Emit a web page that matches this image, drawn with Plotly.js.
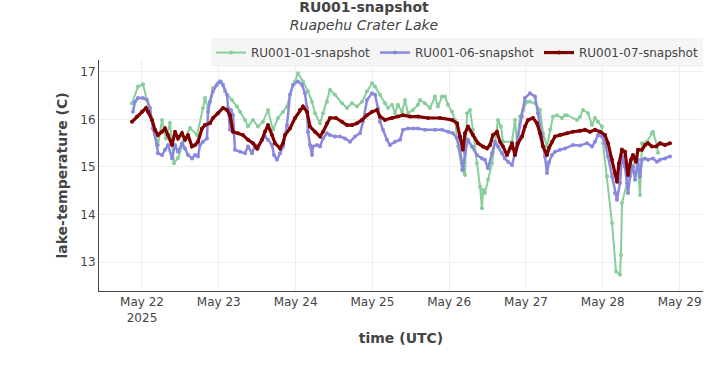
<!DOCTYPE html>
<html>
<head>
<meta charset="utf-8">
<script src="https://cdn.plot.ly/plotly-3.0.1.min.js"></script>
<style>html,body{margin:0;padding:0;background:#fff;}#chart{width:728px;height:370px;}</style>
</head>
<body>
<div id="chart"></div>
<script>
const seriesNames = ["RU001-01-snapshot", "RU001-06-snapshot", "RU001-07-snapshot"];

const t01 = ["2025-05-21 20:52","2025-05-21 22:45","2025-05-22 00:19","2025-05-22 02:30","2025-05-22 04:04","2025-05-22 05:00","2025-05-22 06:15","2025-05-22 07:30","2025-05-22 08:45","2025-05-22 10:00","2025-05-22 11:15","2025-05-22 13:08","2025-05-22 15:00","2025-05-22 17:11","2025-05-22 19:04","2025-05-22 19:41","2025-05-22 20:38","2025-05-22 22:11","2025-05-22 23:45","2025-05-23 00:41","2025-05-23 01:56","2025-05-23 04:08","2025-05-23 05:41","2025-05-23 06:38","2025-05-23 08:11","2025-05-23 09:08","2025-05-23 10:41","2025-05-23 12:15","2025-05-23 13:49","2025-05-23 15:23","2025-05-23 16:56","2025-05-23 18:30","2025-05-23 20:04","2025-05-23 21:19","2025-05-23 22:15","2025-05-23 23:49","2025-05-24 00:45","2025-05-24 02:19","2025-05-24 03:53","2025-05-24 05:08","2025-05-24 06:04","2025-05-24 07:38","2025-05-24 08:34","2025-05-24 09:49","2025-05-24 10:45","2025-05-24 12:19","2025-05-24 14:30","2025-05-24 16:04","2025-05-24 17:38","2025-05-24 19:11","2025-05-24 20:45","2025-05-24 22:19","2025-05-24 23:53","2025-05-25 00:49","2025-05-25 02:23","2025-05-25 03:56","2025-05-25 04:53","2025-05-25 06:08","2025-05-25 07:04","2025-05-25 08:00","2025-05-25 09:15","2025-05-25 10:11","2025-05-25 11:08","2025-05-25 12:41","2025-05-25 14:15","2025-05-25 14:53","2025-05-25 16:26","2025-05-25 18:00","2025-05-25 19:34","2025-05-25 20:30","2025-05-25 21:45","2025-05-25 22:41","2025-05-25 23:38","2025-05-26 00:53","2025-05-26 01:49","2025-05-26 02:45","2025-05-26 04:00","2025-05-26 04:56","2025-05-26 05:34","2025-05-26 06:30","2025-05-26 07:26","2025-05-26 08:41","2025-05-26 09:38","2025-05-26 10:15","2025-05-26 10:34","2025-05-26 11:11","2025-05-26 12:08","2025-05-26 13:23","2025-05-26 14:19","2025-05-26 15:15","2025-05-26 16:11","2025-05-26 16:49","2025-05-26 19:38","2025-05-26 20:34","2025-05-26 21:11","2025-05-26 22:08","2025-05-26 23:04","2025-05-27 00:19","2025-05-27 01:15","2025-05-27 02:49","2025-05-27 04:23","2025-05-27 05:19","2025-05-27 06:34","2025-05-27 07:30","2025-05-27 08:26","2025-05-27 09:41","2025-05-27 11:15","2025-05-27 12:11","2025-05-27 12:49","2025-05-27 15:56","2025-05-27 16:53","2025-05-27 17:49","2025-05-27 19:23","2025-05-27 20:38","2025-05-27 21:34","2025-05-27 22:30","2025-05-27 23:45","2025-05-28 00:04","2025-05-28 01:19","2025-05-28 02:53","2025-05-28 04:08","2025-05-28 05:23","2025-05-28 05:41","2025-05-28 06:00","2025-05-28 07:34","2025-05-28 08:30","2025-05-28 09:26","2025-05-28 10:04","2025-05-28 11:00","2025-05-28 11:38","2025-05-28 12:15","2025-05-28 13:49","2025-05-28 15:23","2025-05-28 15:41","2025-05-28 16:56","2025-05-28 17:15"];
const v01 = [16.34,16.69,16.74,16.16,15.74,15.46,15.99,15.60,15.93,15.08,
15.19,15.55,15.82,15.67,16.24,16.45,16.24,16.66,16.77,16.80,
16.59,16.41,16.27,16.16,15.99,15.85,15.99,15.85,15.95,16.20,
15.78,16.03,16.16,16.27,16.52,16.80,16.97,16.80,16.59,16.37,
16.13,15.92,16.13,16.37,16.62,16.52,16.34,16.24,16.34,16.27,
16.37,16.59,16.76,16.69,16.52,16.34,16.24,16.31,16.13,16.31,
16.16,16.41,16.13,16.20,16.31,16.41,16.34,16.24,16.48,16.27,
16.48,16.48,16.31,16.16,15.99,15.43,14.94,14.83,16.13,16.20,
15.78,15.08,14.59,14.13,14.52,14.45,14.73,15.08,15.50,15.99,
15.85,15.53,15.53,15.99,15.50,16.06,16.20,16.37,16.37,16.34,
16.20,15.71,15.43,15.78,16.06,16.09,16.03,16.09,16.09,15.99,
16.05,16.20,16.13,15.88,16.03,15.95,15.85,15.50,14.80,13.82,
12.80,12.73,13.15,14.24,14.66,15.08,15.00,15.18,14.94,14.41,
15.50,15.53,15.71,15.74,15.46,15.30];

const t06 = ["2025-05-21 21:11","2025-05-21 21:49","2025-05-21 22:45","2025-05-22 00:19","2025-05-22 01:34","2025-05-22 02:30","2025-05-22 03:26","2025-05-22 04:41","2025-05-22 05:00","2025-05-22 06:15",
"2025-05-22 07:11","2025-05-22 08:08","2025-05-22 09:23","2025-05-22 10:19","2025-05-22 11:15","2025-05-22 12:30","2025-05-22 13:26","2025-05-22 14:23","2025-05-22 15:38","2025-05-22 16:34",
"2025-05-22 17:30","2025-05-22 18:08","2025-05-22 19:04","2025-05-22 20:19","2025-05-22 20:38","2025-05-22 21:15","2025-05-22 22:11","2025-05-22 23:26","2025-05-23 00:23","2025-05-23 01:19",
"2025-05-23 02:34","2025-05-23 02:53","2025-05-23 03:30","2025-05-23 03:49","2025-05-23 04:26","2025-05-23 05:04","2025-05-23 06:38","2025-05-23 08:11","2025-05-23 09:08","2025-05-23 10:23",
"2025-05-23 11:19","2025-05-23 12:15","2025-05-23 13:30","2025-05-23 14:26","2025-05-23 15:23","2025-05-23 16:38","2025-05-23 17:15","2025-05-23 18:11","2025-05-23 19:08","2025-05-23 20:04",
"2025-05-23 21:19","2025-05-23 22:15","2025-05-23 23:11","2025-05-24 00:45","2025-05-24 02:00","2025-05-24 02:56","2025-05-24 03:34","2025-05-24 03:53","2025-05-24 04:30","2025-05-24 05:08",
"2025-05-24 05:26","2025-05-24 06:41","2025-05-24 07:38","2025-05-24 08:34","2025-05-24 09:49","2025-05-24 10:45","2025-05-24 12:19","2025-05-24 13:53","2025-05-24 15:26","2025-05-24 17:00",
"2025-05-24 18:34","2025-05-24 20:08","2025-05-24 21:04","2025-05-24 22:19","2025-05-24 23:53","2025-05-25 00:49","2025-05-25 01:45","2025-05-25 02:23","2025-05-25 03:19","2025-05-25 04:34",
"2025-05-25 05:30","2025-05-25 07:04","2025-05-25 08:38","2025-05-25 09:34","2025-05-25 11:08","2025-05-25 12:41","2025-05-25 14:15","2025-05-25 16:26","2025-05-25 19:34","2025-05-25 21:45",
"2025-05-25 23:38","2025-05-26 01:11","2025-05-26 02:26","2025-05-26 03:23","2025-05-26 04:19","2025-05-26 04:56","2025-05-26 05:53","2025-05-26 07:08","2025-05-26 08:41","2025-05-26 10:15",
"2025-05-26 11:11","2025-05-26 12:08","2025-05-26 13:23","2025-05-26 14:19","2025-05-26 15:15","2025-05-26 16:30","2025-05-26 17:26","2025-05-26 18:23","2025-05-26 19:38","2025-05-26 20:34",
"2025-05-26 21:30","2025-05-26 22:45","2025-05-26 23:41","2025-05-27 01:15","2025-05-27 02:49","2025-05-27 03:45","2025-05-27 05:00","2025-05-27 05:56","2025-05-27 06:34","2025-05-27 07:11",
"2025-05-27 08:08","2025-05-27 09:04","2025-05-27 10:38","2025-05-27 12:11","2025-05-27 14:41","2025-05-27 16:53","2025-05-27 19:04","2025-05-27 20:38","2025-05-27 21:34","2025-05-27 22:30",
"2025-05-27 23:45","2025-05-28 00:41","2025-05-28 01:38","2025-05-28 02:53","2025-05-28 03:49","2025-05-28 04:26","2025-05-28 05:23","2025-05-28 06:00","2025-05-28 06:56","2025-05-28 07:53",
"2025-05-28 08:30","2025-05-28 09:26","2025-05-28 10:04","2025-05-28 11:00","2025-05-28 11:38","2025-05-28 12:15","2025-05-28 13:11","2025-05-28 14:08","2025-05-28 15:41","2025-05-28 16:56",
"2025-05-28 17:53","2025-05-28 19:26","2025-05-28 21:00"];
const v06 = [16.16,16.37,16.45,16.45,16.41,16.24,15.81,15.46,15.29,15.25,
15.36,15.46,15.18,15.46,15.32,15.50,15.39,15.25,15.18,15.25,
15.22,15.46,15.53,15.60,16.16,16.37,16.59,16.73,16.80,16.73,
16.52,16.24,15.78,16.20,16.09,15.36,15.32,15.29,15.43,15.29,
15.46,15.39,15.57,15.64,15.57,15.46,15.25,15.15,15.29,15.43,
15.88,16.52,16.73,16.80,16.73,16.55,16.24,15.74,15.46,15.25,
15.43,15.46,15.43,15.60,15.71,15.67,15.64,15.64,15.60,15.53,
15.64,15.71,15.95,16.41,16.55,16.52,16.24,15.95,15.78,15.57,
15.46,15.53,15.57,15.78,15.81,15.81,15.81,15.78,15.78,15.78,
15.74,15.71,15.60,15.36,14.94,15.29,15.57,15.43,15.25,15.18,
15.15,14.97,15.29,15.53,15.43,15.29,15.18,15.11,15.04,15.29,
15.64,16.06,16.45,16.55,16.48,16.13,15.64,15.22,14.87,15.10,
15.25,15.32,15.36,15.39,15.46,15.45,15.50,15.43,15.53,15.67,
15.64,15.50,15.22,14.80,14.45,14.31,14.66,15.22,15.01,14.45,
14.80,15.01,14.73,15.15,14.80,15.15,15.18,15.15,15.18,15.11,
15.15,15.18,15.22];

const t07 = ["2025-05-21 20:52","2025-05-21 22:26","2025-05-22 00:00","2025-05-22 01:15","2025-05-22 01:53","2025-05-22 03:08","2025-05-22 04:04","2025-05-22 05:00","2025-05-22 06:15","2025-05-22 07:11",
"2025-05-22 08:08","2025-05-22 09:23","2025-05-22 10:19","2025-05-22 11:15","2025-05-22 12:30","2025-05-22 13:26","2025-05-22 14:23","2025-05-22 15:38","2025-05-22 16:34","2025-05-22 17:30",
"2025-05-22 18:45","2025-05-22 19:41","2025-05-22 21:15","2025-05-22 22:11","2025-05-22 23:45","2025-05-23 01:19","2025-05-23 02:34","2025-05-23 03:30","2025-05-23 04:26","2025-05-23 06:00",
"2025-05-23 07:34","2025-05-23 09:08","2025-05-23 10:41","2025-05-23 11:56","2025-05-23 13:30","2025-05-23 14:26","2025-05-23 15:23","2025-05-23 16:38","2025-05-23 17:34","2025-05-23 19:08",
"2025-05-23 20:04","2025-05-23 20:41","2025-05-23 22:15","2025-05-23 23:49","2025-05-24 01:23","2025-05-24 02:19","2025-05-24 03:34","2025-05-24 04:30","2025-05-24 06:04","2025-05-24 07:38",
"2025-05-24 08:34","2025-05-24 09:49","2025-05-24 10:45","2025-05-24 12:38","2025-05-24 14:30","2025-05-24 16:04","2025-05-24 17:38","2025-05-24 19:11","2025-05-24 20:45","2025-05-24 22:19",
"2025-05-24 23:53","2025-05-25 01:26","2025-05-25 02:23","2025-05-25 03:56","2025-05-25 06:08","2025-05-25 08:00","2025-05-25 09:34","2025-05-25 11:45","2025-05-25 14:15","2025-05-25 17:23",
"2025-05-25 21:08","2025-05-26 00:53","2025-05-26 02:26","2025-05-26 03:23","2025-05-26 04:19","2025-05-26 04:56","2025-05-26 05:53","2025-05-26 07:26","2025-05-26 09:00","2025-05-26 10:34",
"2025-05-26 11:49","2025-05-26 12:45","2025-05-26 13:41","2025-05-26 14:56","2025-05-26 15:53","2025-05-26 16:49","2025-05-26 18:04","2025-05-26 19:00","2025-05-26 19:38","2025-05-26 20:34",
"2025-05-26 21:30","2025-05-26 22:45","2025-05-26 23:41","2025-05-27 00:38","2025-05-27 02:11","2025-05-27 03:26","2025-05-27 04:23","2025-05-27 05:19","2025-05-27 06:34","2025-05-27 07:11",
"2025-05-27 08:08","2025-05-27 09:04","2025-05-27 10:38","2025-05-27 12:49","2025-05-27 14:41","2025-05-27 16:53","2025-05-27 18:26","2025-05-27 20:00","2025-05-27 21:34","2025-05-27 23:08",
"2025-05-28 00:41","2025-05-28 01:38","2025-05-28 02:53","2025-05-28 03:49","2025-05-28 04:26","2025-05-28 05:04","2025-05-28 06:00","2025-05-28 06:56","2025-05-28 07:53","2025-05-28 08:49",
"2025-05-28 09:26","2025-05-28 10:23","2025-05-28 11:00","2025-05-28 12:15","2025-05-28 13:11","2025-05-28 14:08","2025-05-28 15:23","2025-05-28 16:38","2025-05-28 17:53","2025-05-28 19:26",
"2025-05-28 21:00"];
const v07 = [15.95,16.06,16.16,16.24,16.16,15.99,15.78,15.67,15.74,15.81,
15.67,15.46,15.74,15.60,15.71,15.57,15.67,15.43,15.46,15.53,
15.81,15.88,15.92,16.03,16.13,16.24,16.20,16.09,15.74,15.71,
15.67,15.57,15.50,15.39,15.57,15.74,15.88,15.67,15.50,15.39,
15.50,15.67,15.81,16.03,16.20,16.27,16.16,15.85,15.74,15.64,
15.74,15.92,16.03,16.03,15.95,15.88,15.88,15.92,15.99,16.09,
16.16,16.20,16.06,15.99,16.03,16.06,16.09,16.06,16.06,16.03,
16.03,15.99,15.92,15.64,15.36,15.71,15.85,15.67,15.50,15.43,
15.39,15.46,15.67,15.74,15.53,15.43,15.25,15.39,15.50,15.25,
15.50,15.64,15.85,15.99,16.03,15.92,15.71,15.43,15.25,15.40,
15.53,15.64,15.67,15.71,15.74,15.76,15.78,15.74,15.78,15.74,
15.67,15.50,15.15,14.87,14.69,15.08,15.36,15.32,14.83,15.15,
15.25,15.11,15.36,15.36,15.46,15.50,15.43,15.43,15.50,15.46,
15.50];

const colors = ["#88cd9c", "#8a88de", "#800000"];

const traces = [
  {x: t01, y: v01, name: seriesNames[0], type: "scatter", mode: "lines+markers",
   line: {color: colors[0], width: 2}, marker: {color: colors[0], size: 4}},
  {x: t06, y: v06, name: seriesNames[1], type: "scatter", mode: "lines+markers",
   line: {color: colors[1], width: 2.5}, marker: {color: colors[1], size: 4}},
  {x: t07, y: v07, name: seriesNames[2], type: "scatter", mode: "lines+markers",
   line: {color: colors[2], width: 3.2}, marker: {color: colors[2], size: 4}}
];

const layout = {
  width: 728, height: 370,
  font: {family: "DejaVu Sans", size: 12, color: "#444"},
  paper_bgcolor: "#fff", plot_bgcolor: "#fff",
  margin: {l: 99, r: 25, t: 60, b: 79},
  title: {
    text: "<b>RU001-snapshot</b><br><i>Ruapehu Crater Lake</i>",
    font: {family: "DejaVu Sans", size: 14, color: "#444"},
    x: 0.5, xref: "container", xanchor: "center",
    y: 0.967, yref: "container", yanchor: "top"
  },
  showlegend: true,
  legend: {
    orientation: "h", x: 1, xanchor: "right", y: 1.095, yanchor: "top",
    bgcolor: "#f5f5f5", font: {size: 12, color: "#444"}
  },
  xaxis: {
    type: "date",
    range: ["2025-05-21 10:34", "2025-05-29 07:19"],
    dtick: 86400000, tick0: "2025-05-22",
    showgrid: true, gridcolor: "#eee",
    showline: true, linecolor: "#444", linewidth: 1,
    zeroline: false,
    title: {text: "<b>time (UTC)</b>", font: {size: 14, color: "#444"}}
  },
  yaxis: {
    range: [12.39, 17.25],
    dtick: 1,
    showgrid: true, gridcolor: "#eee",
    showline: true, linecolor: "#444", linewidth: 1,
    zeroline: false, automargin: true,
    title: {text: "<b>lake-temperature (C)</b>", standoff: 9, font: {size: 14, color: "#444"}}
  }
};

Plotly.newPlot("chart", traces, layout, {displayModeBar: false, staticPlot: true});
</script>
</body>
</html>
